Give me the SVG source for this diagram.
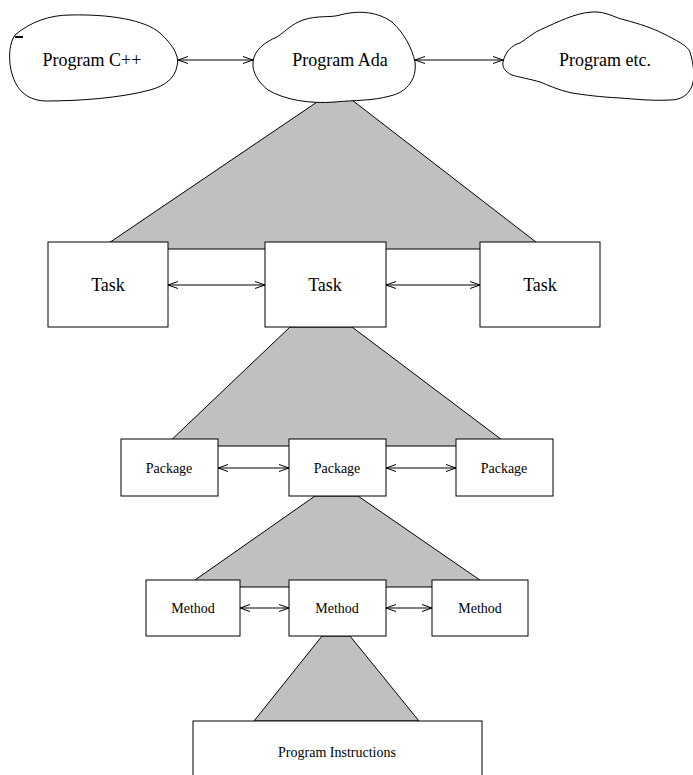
<svg xmlns="http://www.w3.org/2000/svg" width="693" height="775" viewBox="0 0 693 775">
  <style>
    .shade { fill: #c0c0c0; stroke: #000; stroke-width: 1; }
    .box { fill: #fff; stroke: #000; stroke-width: 1; }
    .cloud { fill: #fff; stroke: #000; stroke-width: 1; }
    .link { stroke: #000; stroke-width: 1; fill: none; marker-start: url(#head); marker-end: url(#head); }
    text { font-family: "Liberation Serif", "Times New Roman", serif; fill: #000; text-anchor: middle; }
    .big { font-size: 18px; }
    .mid { font-size: 14px; }
    .small { font-size: 14px; }
  </style>
  <defs>
    <marker id="head" viewBox="0 0 10 10" refX="10" refY="5" markerWidth="10" markerHeight="10" markerUnits="userSpaceOnUse" orient="auto-start-reverse">
      <path d="M0,1.5 L10,5 L0,8.5" fill="none" stroke="#000" stroke-width="1"/>
    </marker>
  </defs>

  <!-- shaded decomposition wedges -->
  <g id="wedges">
    <polygon class="shade" points="320,100 352,100 545,249 100,249"/>
    <polygon class="shade" points="290,327 352,327 510,446 165,446"/>
    <polygon class="shade" points="315,496 358,496 490,587 185,587"/>
    <polygon class="shade" points="322,636 350,636 419,721 254,721"/>
  </g>

  <!-- program clouds -->
  <g id="cloud-cpp">
    <path class="cloud" d="M15,35 C30,22 50,15 70,15 C110,14 145,20 160,33 C172,44 180,56 177,66 C175,78 165,86 150,90 C120,98 80,101 45,101 C25,100 15,88 11,70 C8,55 10,42 15,35 Z"/>
    <line x1="15" y1="37" x2="23" y2="37" stroke="#000" stroke-width="2"/>
    <text class="big" x="92" y="66">Program C++</text>
  </g>
  <g id="cloud-ada">
    <path class="cloud" d="M253,62 C254,50 265,42 277,37 C287,30 292,24 303,20 C318,15 330,18 340,15 C355,11 375,10 392,22 C404,33 412,48 415,62 C417,78 408,92 390,96 C372,101 355,100 335,102 C310,104 285,100 268,90 C258,82 252,72 253,62 Z"/>
    <text class="big" x="340" y="66">Program Ada</text>
  </g>
  <g id="cloud-etc">
    <path class="cloud" d="M503,62 C505,52 512,45 520,43 C528,38 534,32 542,29 C558,22 575,13 592,12 C606,11 615,18 625,20 C640,24 652,28 662,33 C676,40 688,46 690,52 C694,65 695,78 692,86 C688,96 680,100 670,100 C650,101 635,99 620,98 C600,97 585,95 572,93 C558,90 548,85 540,82 C530,79 518,77 512,75 C505,72 502,67 503,62 Z"/>
    <text class="big" x="605" y="66">Program etc.</text>
  </g>

  <!-- task row -->
  <g id="task-left"><rect class="box" x="48" y="242" width="120" height="85"/><text class="big" x="108" y="291">Task</text></g>
  <g id="task-mid"><rect class="box" x="265" y="242" width="121" height="85"/><text class="big" x="325" y="291">Task</text></g>
  <g id="task-right"><rect class="box" x="480" y="242" width="120" height="85"/><text class="big" x="540" y="291">Task</text></g>

  <!-- package row -->
  <g id="package-left"><rect class="box" x="121" y="439" width="97" height="57"/><text class="mid" x="169" y="473">Package</text></g>
  <g id="package-mid"><rect class="box" x="289" y="439" width="97" height="57"/><text class="mid" x="337" y="473">Package</text></g>
  <g id="package-right"><rect class="box" x="456" y="439" width="97" height="57"/><text class="mid" x="504" y="473">Package</text></g>

  <!-- method row -->
  <g id="method-left"><rect class="box" x="146" y="580" width="94" height="56"/><text class="mid" x="193" y="613">Method</text></g>
  <g id="method-mid"><rect class="box" x="289" y="580" width="97" height="56"/><text class="mid" x="337" y="613">Method</text></g>
  <g id="method-right"><rect class="box" x="432" y="580" width="96" height="56"/><text class="mid" x="480" y="613">Method</text></g>

  <!-- instructions -->
  <g id="instructions"><rect class="box" x="193" y="721" width="289" height="60"/><text class="small" x="337" y="757">Program Instructions</text></g>

  <!-- two-way connectors -->
  <g id="connectors">
    <line class="link" x1="178" y1="60" x2="253" y2="60"/>
    <line class="link" x1="415" y1="60" x2="503" y2="60"/>
    <line class="link" x1="168" y1="285" x2="265" y2="285"/>
    <line class="link" x1="386" y1="285" x2="480" y2="285"/>
    <line class="link" x1="218" y1="468" x2="289" y2="468"/>
    <line class="link" x1="386" y1="468" x2="456" y2="468"/>
    <line class="link" x1="240" y1="608" x2="289" y2="608"/>
    <line class="link" x1="386" y1="608" x2="432" y2="608"/>
  </g>
</svg>
